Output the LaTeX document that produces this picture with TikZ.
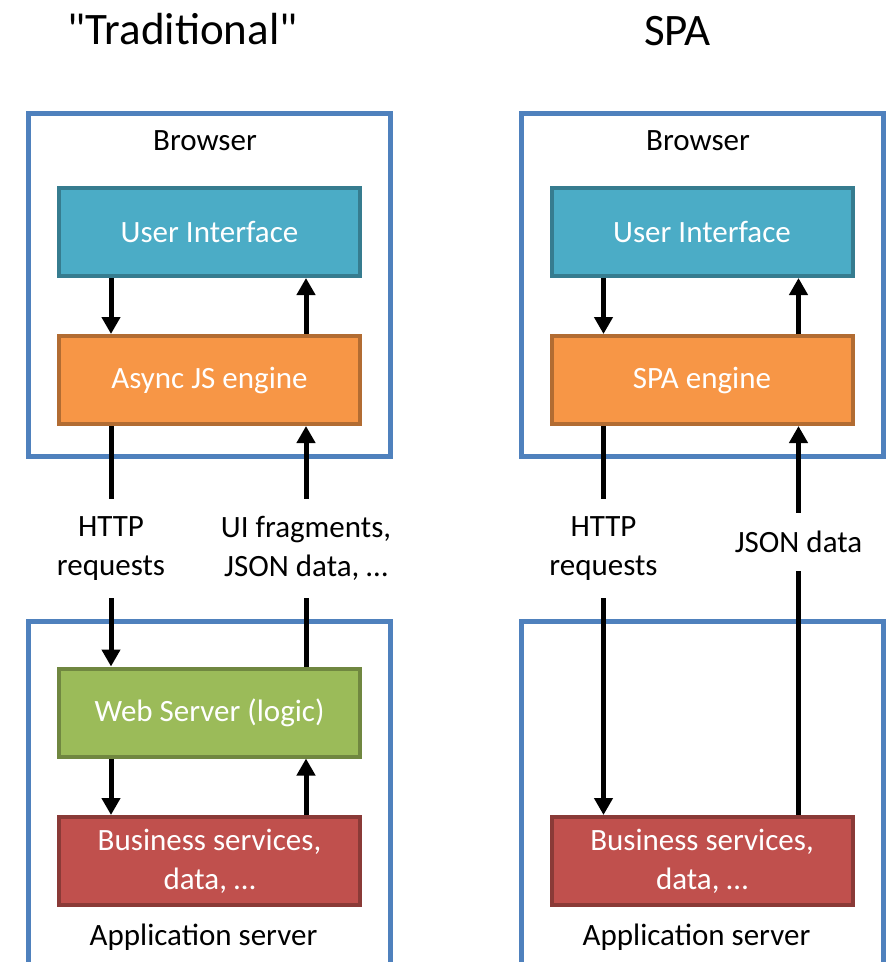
\documentclass[tikz,border=0pt]{standalone}
\usepackage{fontspec}
\setmainfont{Carlito}
\usetikzlibrary{arrows.meta}
\definecolor{frameblue}{HTML}{4F81BD}
\definecolor{uiblue}{HTML}{4BACC6}
\definecolor{jsorange}{HTML}{F79646}
\definecolor{wsgreen}{HTML}{9BBB59}
\definecolor{bsred}{HTML}{C0504D}
\tikzset{
  frame/.style={draw=frameblue, line width=5pt, minimum width=362, minimum height=#1},
  tier/.style={draw=#1!72!black, fill=#1, text=white, line width=4pt, minimum width=301, minimum height=88, align=center},
  lbl/.style={align=center, minimum height=#1},
  flow/.style={line width=5pt, -{Triangle[length=17pt,width=18pt]}},
  wire/.style={line width=5pt}
}
\begin{document}
\begin{tikzpicture}[x=1pt,y=1pt,font=\fontsize{31}{39}\selectfont]
\tikzstyle{every node}+=[inner sep=0pt]
\clip (0,0) rectangle (892,-962);
\node [anchor=base, font=\fontsize{45}{54}\selectfont] (ttl1) at (182.5,-44) {\textquotedbl Traditional\textquotedbl};
\node [anchor=base, font=\fontsize{45}{54}\selectfont] (ttl2) at (677.5,-45) {SPA};
\node [frame=343] (brw1) at (209.5,-285) {};
\node [frame=380] (app1) at (209.5,-811.5) {};
\node [frame=343] (brw2) at (702,-285) {};
\node [frame=380] (app2) at (702,-811.5) {};
\node [anchor=base] (brwl1) at (205,-150) {Browser};
\node [anchor=base] (brwl2) at (698,-150) {Browser};
\node [anchor=base] (appl1) at (203.5,-945) {Application server};
\node [anchor=base] (appl2) at (696.5,-945) {Application server};
\node [tier=uiblue] (ui1) at (209.5,-232) {User Interface};
\node [tier=jsorange] (js1) at (209.5,-380) {Async JS engine};
\node [tier=wsgreen] (ws1) at (209.5,-712.5) {Web Server (logic)};
\node [tier=bsred] (bs1) at (209.5,-861) {Business services,\\data, \dots};
\node [tier=uiblue] (ui2) at (702,-232) {User Interface};
\node [tier=jsorange] (js2) at (702,-380) {SPA engine};
\node [tier=bsred] (bs2) at (702,-861) {Business services,\\data, \dots};
\node [lbl=99] (req1) at (111,-548.5) {HTTP\\requests};
\node [lbl=99] (res1) at (306,-548.5) {UI fragments,\\JSON data, \dots};
\node [lbl=99] (req2) at (603.5,-548.5) {HTTP\\requests};
\node [lbl=58] (res2) at (798.5,-542) {JSON data};
\draw [flow] (ui1.south -| req1) -- (js1.north -| req1);
\draw [flow] (js1.north -| res1) -- (ui1.south -| res1);
\draw [wire] (js1.south -| req1) -- (req1.north);
\draw [flow] (req1.south) -- (ws1.north -| req1);
\draw [wire] (ws1.north -| res1) -- (res1.south);
\draw [flow] (res1.north) -- (js1.south -| res1);
\draw [flow] (ws1.south -| req1) -- (bs1.north -| req1);
\draw [flow] (bs1.north -| res1) -- (ws1.south -| res1);
\draw [flow] (ui2.south -| req2) -- (js2.north -| req2);
\draw [flow] (js2.north -| res2) -- (ui2.south -| res2);
\draw [wire] (js2.south -| req2) -- (req2.north);
\draw [flow] (req2.south) -- (bs2.north -| req2);
\draw [wire] (bs2.north -| res2) -- (res2.south);
\draw [flow] (res2.north) -- (js2.south -| res2);
\end{tikzpicture}
\end{document}
